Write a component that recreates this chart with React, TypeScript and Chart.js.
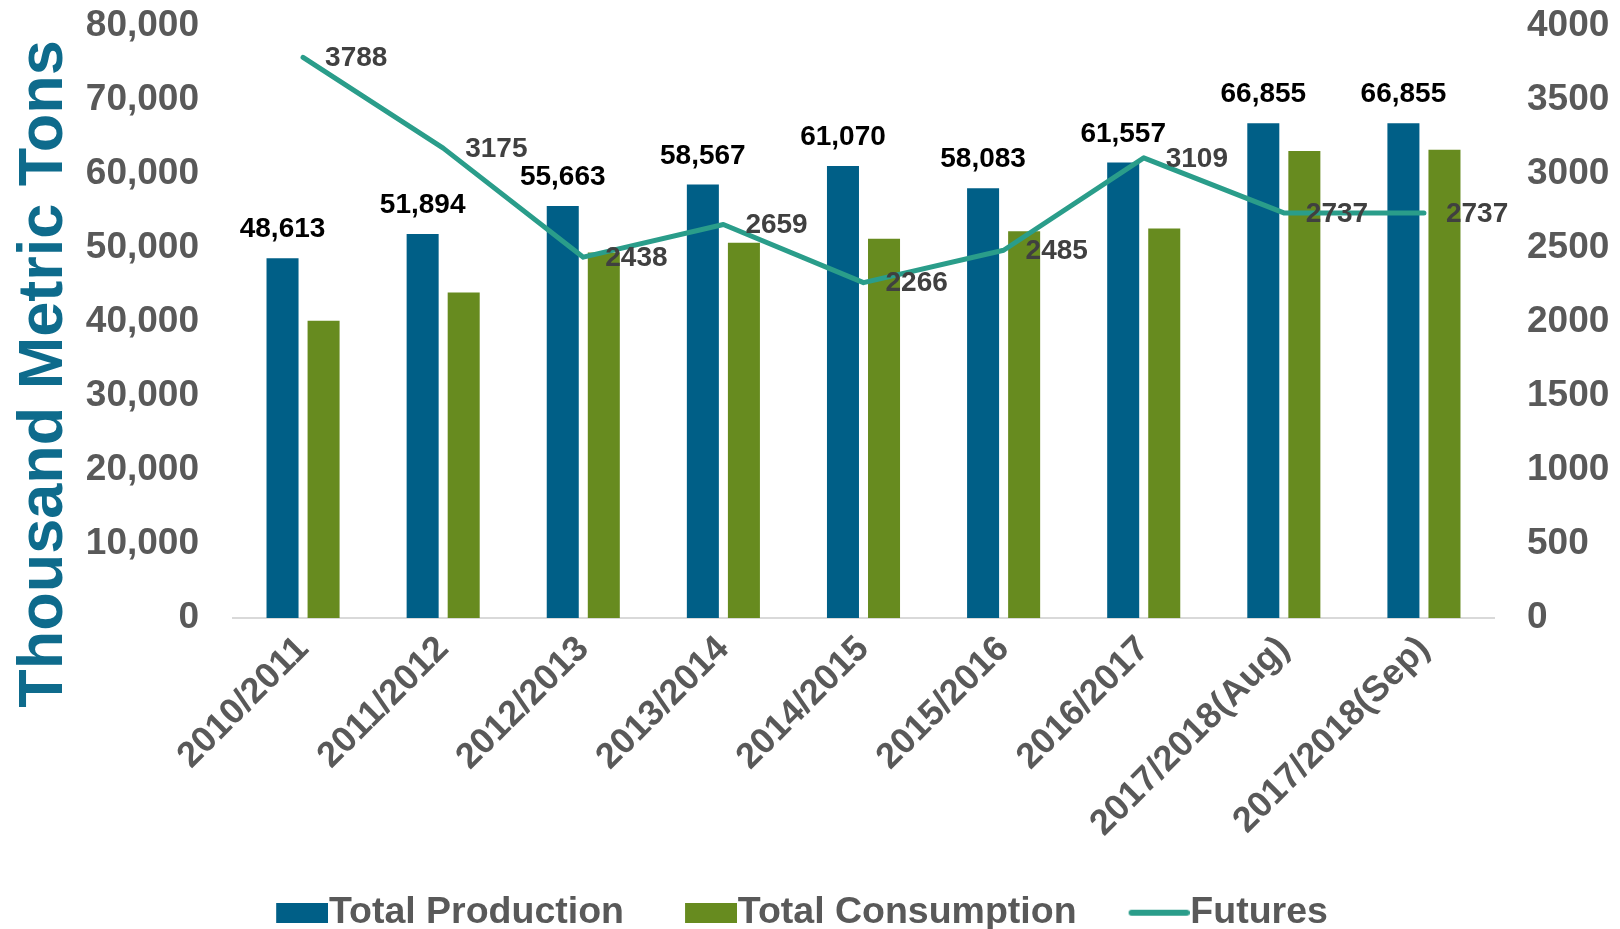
import React, { useEffect, useRef } from "react";
import { Chart, registerables } from "chart.js";

Chart.register(...registerables);

const categories = [
  "2010/2011",
  "2011/2012",
  "2012/2013",
  "2013/2014",
  "2014/2015",
  "2015/2016",
  "2016/2017",
  "2017/2018(Aug)",
  "2017/2018(Sep)",
];
const production = [48613, 51894, 55663, 58567, 61070, 58083, 61557, 66855, 66855];
const consumption = [40170, 43970, 49400, 50700, 51260, 52250, 52630, 63120, 63280];
const futures = [3788, 3175, 2438, 2659, 2266, 2485, 3109, 2737, 2737];

const seriesNames = ["Total Production", "Total Consumption", "Futures"];
const yTitle = "Thousand Metric Tons";

const FONT = '"Liberation Sans", Arial, Helvetica, sans-serif';
const C_PROD = "#005F87";
const C_CONS = "#678B1F";
const C_FUT = "#2A9D8A";
const C_TICK = "#595959";
const C_TITLE = "#0E6B8C";

function makeMarker(kind: "rect" | "line", color: string): HTMLCanvasElement {
  const c = document.createElement("canvas");
  c.width = 72;
  c.height = 20;
  const g = c.getContext("2d") as CanvasRenderingContext2D;
  if (kind === "rect") {
    g.fillStyle = color;
    g.fillRect(20, 0, 52, 20);
  } else {
    g.strokeStyle = color;
    g.lineWidth = 6;
    g.lineCap = "round";
    g.beginPath();
    g.moveTo(14, 10);
    g.lineTo(69, 10);
    g.stroke();
  }
  return c;
}

const labelPlugin = {
  id: "valueLabels",
  afterDatasetsDraw(chart: any) {
    const ctx = chart.ctx;
    ctx.save();
    ctx.font = `bold 28px ${FONT}`;
    ctx.textBaseline = "middle";
    ctx.textAlign = "center";
    ctx.fillStyle = "#000000";
    chart.getDatasetMeta(0).data.forEach((bar: any, i: number) => {
      ctx.fillText(production[i].toLocaleString("en-US"), bar.x, bar.y - 28.5);
    });
    ctx.textAlign = "left";
    ctx.fillStyle = "#404040";
    chart.getDatasetMeta(2).data.forEach((pt: any, i: number) => {
      ctx.fillText(String(futures[i]), pt.x + 22, pt.y + 1);
    });
    ctx.restore();
  },
};

const yTitlePlugin = {
  id: "yTitle",
  afterDraw(chart: any) {
    const ctx = chart.ctx;
    const area = chart.chartArea;
    ctx.save();
    ctx.translate(chart.scales.y.left + 43, area.top + 348);
    ctx.rotate(-Math.PI / 2);
    ctx.font = `bold 63px ${FONT}`;
    ctx.fillStyle = C_TITLE;
    ctx.textAlign = "center";
    ctx.textBaseline = "middle";
    ctx.fillText(yTitle, 0, 2);
    ctx.restore();
  },
};

const legendShift = {
  id: "legendShift",
  afterLayout(chart: any) {
    const lg = chart.legend;
    if (lg) {
      lg.top -= 34;
      lg.bottom = chart.height;
      lg.left -= 9;
      lg.right -= 9;
    }
  },
};

export default function App() {
  const ref = useRef<HTMLCanvasElement | null>(null);

  useEffect(() => {
    document.body.style.margin = "0";
    const canvas = ref.current;
    if (!canvas) return;
    const markers = [
      makeMarker("rect", C_PROD),
      makeMarker("rect", C_CONS),
      makeMarker("line", C_FUT),
    ];
    const chart = new Chart(canvas, {
      type: "bar",
      data: {
        labels: categories,
        datasets: [
          {
            type: "bar",
            label: seriesNames[0],
            data: production,
            backgroundColor: C_PROD,
            yAxisID: "y",
            order: 1,
            barPercentage: 0.78,
            categoryPercentage: 0.586,
          },
          {
            type: "bar",
            label: seriesNames[1],
            data: consumption,
            backgroundColor: C_CONS,
            yAxisID: "y",
            order: 1,
            barPercentage: 0.78,
            categoryPercentage: 0.586,
          },
          {
            type: "line",
            label: seriesNames[2],
            data: futures,
            borderColor: C_FUT,
            backgroundColor: C_FUT,
            borderWidth: 5,
            pointRadius: 0,
            pointHoverRadius: 0,
            tension: 0,
            borderJoinStyle: "round",
            borderCapStyle: "round",
            yAxisID: "y1",
            order: 0,
          } as any,
        ],
      },
      options: {
        responsive: false,
        animation: false,
        devicePixelRatio: 1,
        layout: { padding: { top: 26, left: 0, right: 0, bottom: 0 } },
        plugins: {
          tooltip: { enabled: false },
          legend: {
            position: "bottom",
            maxHeight: 60,
            labels: {
              usePointStyle: true,
              pointStyleWidth: 36,
              boxHeight: 20,
              padding: 59,
              color: C_TICK,
              font: { family: FONT, size: 37.5, weight: "bold" },
              generateLabels: () =>
                seriesNames.map((name, i) => ({
                  text: name,
                  fillStyle: "rgba(0,0,0,0)",
                  strokeStyle: "rgba(0,0,0,0)",
                  lineWidth: 0,
                  pointStyle: markers[i],
                  fontColor: C_TICK,
                  datasetIndex: i,
                  hidden: false,
                })),
            },
          },
        },
        scales: {
          x: {
            grid: { display: false, drawTicks: false },
            border: { display: true, color: "#D9D9D9", width: 2 },
            ticks: {
              minRotation: 45,
              maxRotation: 45,
              autoSkip: false,
              padding: 10,
              color: C_TICK,
              font: { family: FONT, size: 36, weight: "bold" },
            },
            afterFit: (s: any) => {
              s.height = 251;
            },
          },
          y: {
            position: "left",
            min: 0,
            max: 80000,
            grid: { display: false, drawTicks: false },
            border: { display: false },
            ticks: {
              stepSize: 10000,
              padding: 34,
              color: C_TICK,
              font: { family: FONT, size: 37, weight: "bold" },
              callback: (v: any) => Number(v).toLocaleString("en-US"),
            },
            afterFit: (s: any) => {
              s.width = 233;
              s.paddingTop = 0;
              s.paddingBottom = 0;
            },
          },
          y1: {
            position: "right",
            min: 0,
            max: 4000,
            grid: { display: false, drawTicks: false },
            border: { display: false },
            ticks: {
              stepSize: 500,
              padding: 33,
              color: C_TICK,
              font: { family: FONT, size: 37, weight: "bold" },
              callback: (v: any) => String(v),
            },
            afterFit: (s: any) => {
              s.width = 126;
              s.paddingTop = 0;
              s.paddingBottom = 0;
            },
          },
        },
      } as any,
      plugins: [labelPlugin, yTitlePlugin, legendShift],
    });
    return () => chart.destroy();
  }, []);

  return (
    <div style={{ position: "absolute", left: 0, top: 0, width: 1620, height: 929, background: "#ffffff" }}>
      <canvas ref={ref} width={1620} height={929} style={{ display: "block", width: 1620, height: 929 }} />
    </div>
  );
}
